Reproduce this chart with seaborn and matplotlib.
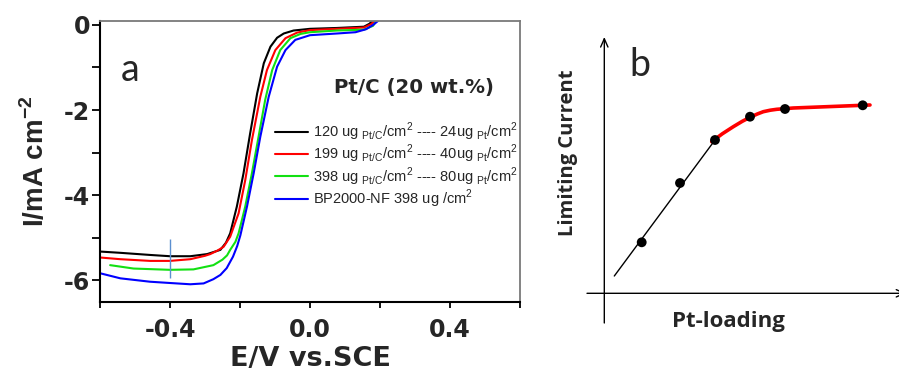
import pandas as pd
import matplotlib
matplotlib.use("Agg")
import matplotlib.pyplot as plt
from matplotlib.ticker import FixedLocator
import seaborn as sns

# ---------------- panel a: polarisation curves ----------------
# potential E (V vs. SCE) and current density I (mA cm^-2) for each electrode
e_120 = [-0.600, -0.542, -0.457, -0.400, -0.342, -0.294, -0.256, -0.240, -0.228, -0.209,
         -0.190, -0.171, -0.151, -0.132, -0.113, -0.094, -0.075, -0.047, 0.000, 0.077,
         0.154, 0.170, 0.179]
i_120 = [-5.33, -5.36, -5.41, -5.44, -5.44, -5.39, -5.29, -5.12, -4.90, -4.27,
         -3.49, -2.55, -1.61, -0.90, -0.51, -0.30, -0.20, -0.13, -0.09, -0.07,
         -0.04, 0.03, 0.10]

e_199 = [-0.600, -0.542, -0.457, -0.400, -0.342, -0.300, -0.285, -0.265, -0.247, -0.228,
         -0.204, -0.185, -0.166, -0.142, -0.123, -0.099, -0.070, -0.037, 0.000, 0.077,
         0.154, 0.175, 0.185]
i_199 = [-5.47, -5.51, -5.55, -5.55, -5.51, -5.43, -5.39, -5.31, -5.22, -4.98,
         -4.43, -3.65, -2.71, -1.69, -1.06, -0.59, -0.31, -0.18, -0.12, -0.09,
         -0.06, 0.02, 0.10]

e_398 = [-0.571, -0.504, -0.400, -0.333, -0.276, -0.250, -0.237, -0.228, -0.213, -0.204,
         -0.185, -0.166, -0.147, -0.128, -0.108, -0.085, -0.056, -0.027, 0.000, 0.077,
         0.154, 0.180, 0.190]
i_398 = [-5.65, -5.73, -5.76, -5.75, -5.65, -5.52, -5.42, -5.29, -5.10, -4.90,
         -4.27, -3.49, -2.63, -1.76, -1.06, -0.59, -0.31, -0.21, -0.17, -0.13,
         -0.11, -0.02, 0.10]

e_bp = [-0.600, -0.542, -0.457, -0.400, -0.342, -0.304, -0.276, -0.256, -0.238, -0.220,
        -0.208, -0.199, -0.180, -0.161, -0.142, -0.118, -0.094, -0.070, -0.042, 0.000,
        0.077, 0.130, 0.160, 0.180, 0.195]
i_bp = [-5.84, -5.96, -6.04, -6.07, -6.10, -6.08, -5.98, -5.88, -5.72, -5.45,
        -5.20, -4.95, -4.27, -3.49, -2.63, -1.69, -0.98, -0.59, -0.35, -0.24,
        -0.20, -0.17, -0.10, 0.00, 0.10]

sample_labels = [
    r"120 ug $_{\mathregular{Pt/C}}$/cm$^{\mathregular{2}}$ ---- 24ug $_{\mathregular{Pt}}$/cm$^{\mathregular{2}}$",
    r"199 ug $_{\mathregular{Pt/C}}$/cm$^{\mathregular{2}}$ ---- 40ug $_{\mathregular{Pt}}$/cm$^{\mathregular{2}}$",
    r"398 ug $_{\mathregular{Pt/C}}$/cm$^{\mathregular{2}}$ ---- 80ug $_{\mathregular{Pt}}$/cm$^{\mathregular{2}}$",
    r"BP2000-NF 398 ug /cm$^{\mathregular{2}}$",
]
sample_colors = ["#000000", "#ff0000", "#12e012", "#0000ff"]

# limiting-current marker at -0.4 V
marker_e = -0.4
marker_i = [-5.04, -5.96]

x_ticks = [-0.6, -0.4, -0.2, 0.0, 0.2, 0.4, 0.6]
x_tick_labels = ["", "-0.4", "", "0.0", "", "0.4", ""]
y_ticks = [0, -1, -2, -3, -4, -5, -6]
y_tick_labels = ["0", "", "-2", "", "-4", "", "-6"]

# ---------------- panel b: limiting current vs. Pt loading (schematic) ----------------
loading = [3.74, 7.57, 11.07, 14.57, 18.07, 25.84]
limiting = [5.10, 11.03, 15.33, 17.66, 18.43, 18.80]
linear_x = [1.00, 11.07]
linear_y = [1.73, 15.33]
plateau_x = [10.74, 11.8, 12.9, 13.8, 14.57, 15.3, 15.9, 16.6, 17.24, 18.9, 22.24, 26.57]
plateau_y = [15.16, 15.95, 16.66, 17.20, 17.60, 17.93, 18.16, 18.31, 18.40, 18.53, 18.66, 18.83]

# ---------------- styling ----------------
sns.set_theme(style="white")
plt.rcParams["font.family"] = ["DejaVu Sans"]
plt.rcParams["mathtext.fontset"] = "custom"
plt.rcParams["mathtext.rm"] = "DejaVu Sans"
plt.rcParams["mathtext.bf"] = "Liberation Sans:bold"

fig = plt.figure(figsize=(8.99, 3.73), dpi=100)
fig.patch.set_facecolor("white")

W, H = 899.0, 373.0
ax = fig.add_axes([100 / W, 1 - 301.7 / H, 420 / W, (301.7 - 21) / H])

frames = []
for e, i, lab in zip([e_120, e_199, e_398, e_bp], [i_120, i_199, i_398, i_bp], sample_labels):
    frames.append(pd.DataFrame({"E": e, "I": i, "sample": lab}))
curves = pd.concat(frames, ignore_index=True)

sns.lineplot(data=curves, x="E", y="I", hue="sample", hue_order=sample_labels,
             palette=sample_colors, linewidth=1.5, sort=False, estimator=None, ax=ax)
ax.vlines(marker_e, marker_i[0], marker_i[1], color="#5b8fd0", linewidth=1.0)

ax.set_xlim(-0.6, 0.6)
ax.set_ylim(-6.51, 0.094)
ax.xaxis.set_major_locator(FixedLocator(x_ticks))
ax.yaxis.set_major_locator(FixedLocator(y_ticks))
ax.set_xticklabels(x_tick_labels)
ax.set_yticklabels(y_tick_labels)
for lab in ax.get_xticklabels() + ax.get_yticklabels():
    lab.set_fontweight("bold")
    lab.set_fontsize(17)
ax.tick_params(axis="x", which="major", direction="out", length=4.5, width=1.3,
               color="black", pad=7, bottom=True)
ax.tick_params(axis="y", which="major", direction="out", length=5.5, width=1.3,
               color="black", pad=1.5, left=True)

for side in ["left", "bottom"]:
    ax.spines[side].set_color("black")
    ax.spines[side].set_linewidth(1.5)
for side in ["top", "right"]:
    ax.spines[side].set_color("#7a7a7a")
    ax.spines[side].set_linewidth(1.3)

ax.set_xlabel("E/V vs.SCE", fontsize=19.5, fontweight="bold")
ax.xaxis.set_label_coords(0.5, -0.158)
ax.set_ylabel(r"I/mA cm$^{\mathregular{-2}}$", fontsize=20, fontweight="bold",
              family="Liberation Sans")
ax.yaxis.set_label_coords(-0.12, 0.5)

ax.text(-0.515, -1.07, "a", fontsize=27, family="Lato", ha="center", va="center")
ax.text(0.297, -1.46, "Pt/C (20 wt.%)", fontsize=14.2, fontweight="bold",
        ha="center", va="center")

handles, labels = ax.get_legend_handles_labels()
ax.legend(handles, labels, loc="upper left", bbox_to_anchor=(0.4167, 0.645),
          frameon=False, prop={"family": "Liberation Sans", "size": 10.5},
          handlelength=2.26, handletextpad=0.35,
          labelspacing=0.0, borderpad=0, borderaxespad=0)

# ---------------- panel b ----------------
bx = fig.add_axes([580 / W, 0, 319 / W, 1])
bx.set_xlim(-2.43, 29.47)
bx.set_ylim(-7.97, 29.33)
bx.axis("off")

bx.annotate("", xy=(0, 25.63), xytext=(0, -2.97), annotation_clip=False,
            arrowprops=dict(arrowstyle="->,head_length=0.5,head_width=0.22",
                            lw=1.0, color="black", shrinkA=0, shrinkB=0))
bx.annotate("", xy=(30.2, 0), xytext=(-1.73, 0), annotation_clip=False,
            arrowprops=dict(arrowstyle="->,head_length=0.5,head_width=0.22",
                            lw=1.0, color="black", shrinkA=0, shrinkB=0))

sns.lineplot(x=linear_x, y=linear_y, color="black", linewidth=1.0, ax=bx)
sns.lineplot(x=plateau_x, y=plateau_y, color="#ff0000", linewidth=2.6, sort=False,
             estimator=None, ax=bx)
sns.scatterplot(x=loading, y=limiting, color="black", s=50, edgecolor="none",
                zorder=4, ax=bx)

bx.text(3.57, 22.83, "b", fontsize=27, family="Lato", ha="center", va="center")
bx.text(-3.63, 14.1, "Limiting Current", fontsize=14.5, family="Open Sans",
        fontweight="bold", rotation=90, ha="center", va="center")
bx.text(12.37, -2.87, "Pt-loading", fontsize=16, family="Open Sans", fontweight="bold",
        ha="center", va="center")

fig.savefig("out.png", dpi=100, facecolor="white")
